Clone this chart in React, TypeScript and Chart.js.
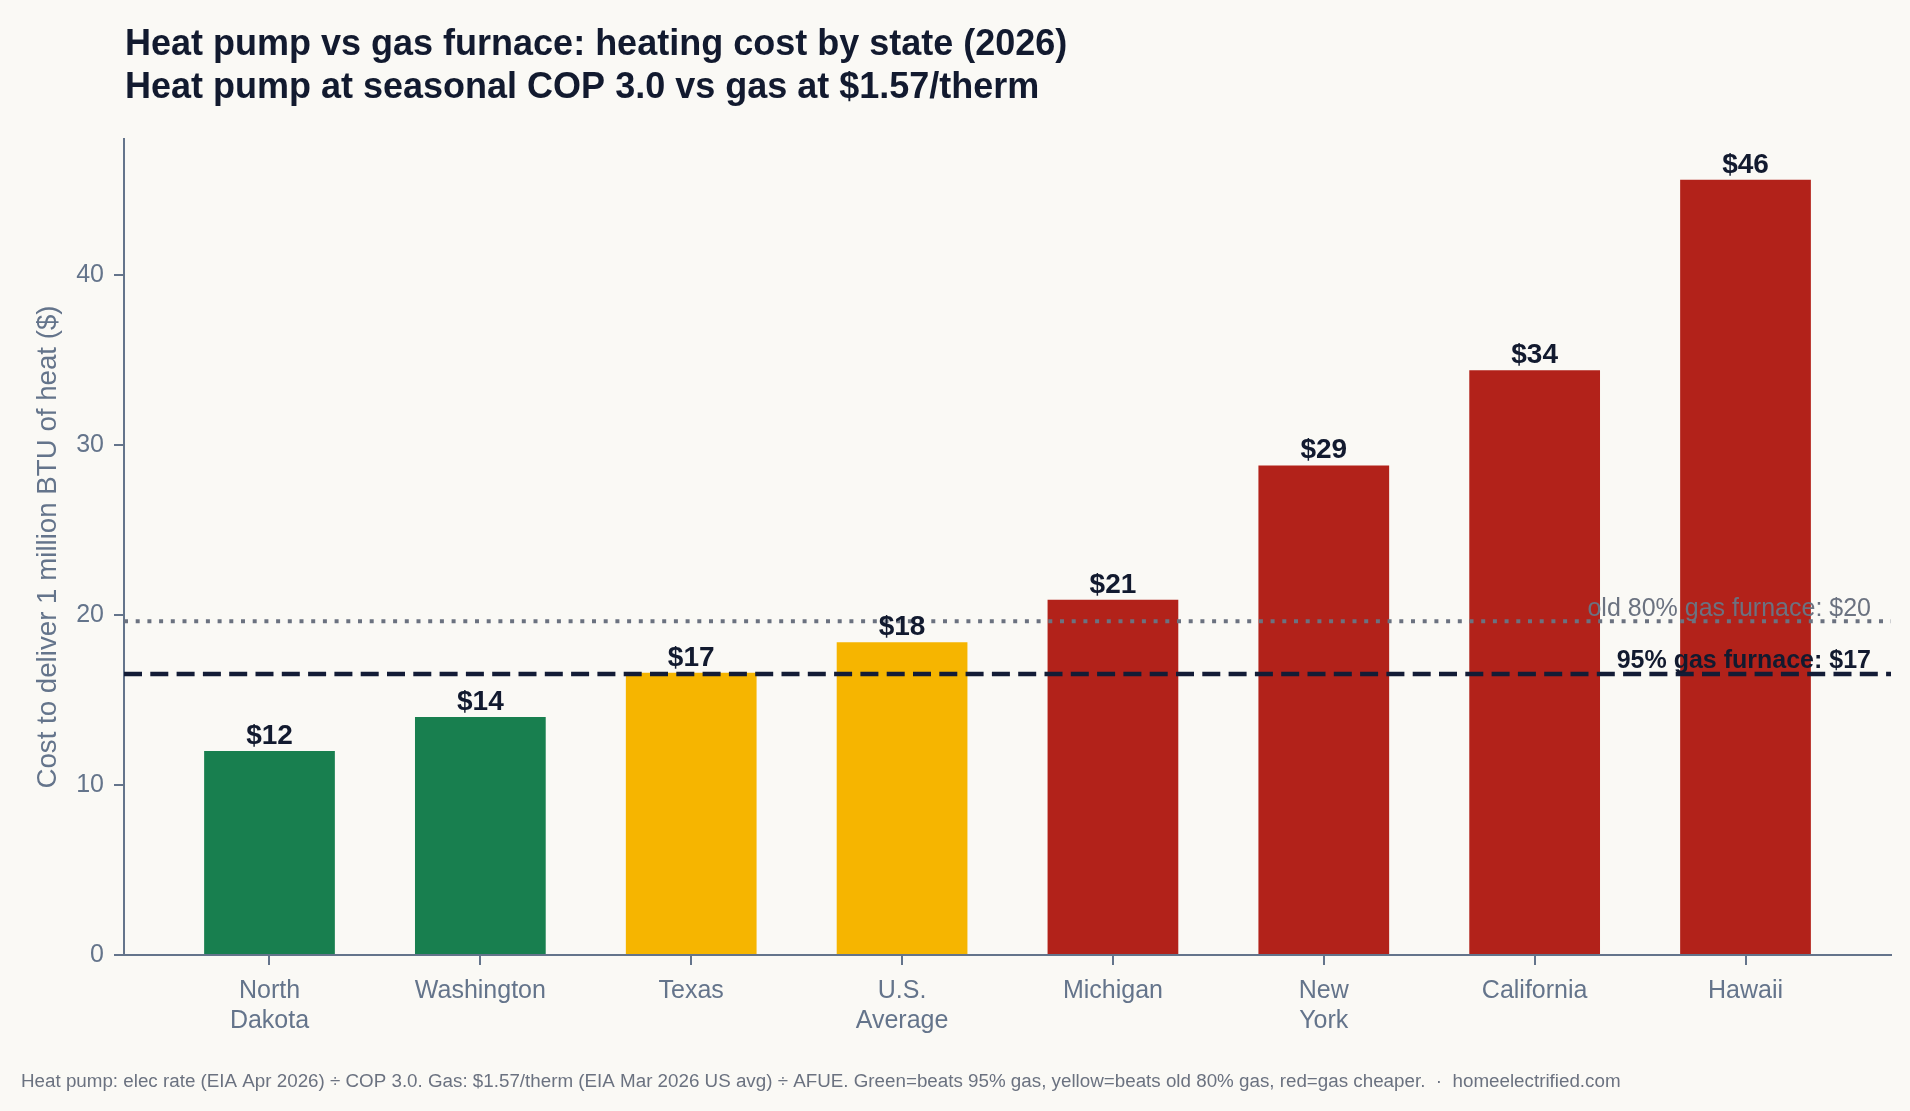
import React, { useEffect, useRef } from "react";
import { Chart, registerables } from "chart.js";

Chart.register(...registerables);

// Categories (states) along the x axis; multi-line names are arrays.
const categories: (string | string[])[] = [
  ["North", "Dakota"],
  "Washington",
  "Texas",
  ["U.S.", "Average"],
  "Michigan",
  ["New", "York"],
  "California",
  "Hawaii",
];

// Heat pump cost to deliver 1 million BTU of heat ($), COP 3.0
const heatPumpCost = [12.0, 14.0, 16.6, 18.4, 20.9, 28.8, 34.4, 45.6];

// Gas furnace cost per million BTU at $1.57/therm
const furnace95Cost = 16.53;
const furnace80Cost = 19.63;

const yTickValues = [0, 10, 20, 30, 40];

const titleLines = [
  "Heat pump vs gas furnace: heating cost by state (2026)",
  "Heat pump at seasonal COP 3.0 vs gas at $1.57/therm",
];
const yAxisTitle = "Cost to deliver 1 million BTU of heat ($)";
const footerText =
  "Heat pump: elec rate (EIA Apr 2026) \u00f7 COP 3.0. Gas: $1.57/therm (EIA Mar 2026 US avg) \u00f7 AFUE. Green=beats 95% gas, yellow=beats old 80% gas, red=gas cheaper.  \u00b7  homeelectrified.com";

const FONT = "'Liberation Sans', Arial, Helvetica, sans-serif";
const BG = "#faf9f5";
const INK = "#121a2f";
const NAVY = "#131c36";
const AXIS = "#64748b";
const MUTED = "#6b7280";
const GREEN = "#187f4f";
const YELLOW = "#f6b500";
const RED = "#b2221a";

function barColor(v: number): string {
  if (v < furnace95Cost) return GREEN;
  if (v < furnace80Cost) return YELLOW;
  return RED;
}

const overlayPlugin = {
  id: "overlay",
  beforeDraw(chart: any) {
    const { ctx, width, height } = chart;
    ctx.save();
    ctx.fillStyle = BG;
    ctx.fillRect(0, 0, width, height);
    ctx.restore();
  },
  afterDatasetsDraw(chart: any) {
    const { ctx, chartArea } = chart;
    const y = chart.scales.y;
    ctx.save();

    // reference lines
    const yOld = y.getPixelForValue(furnace80Cost);
    ctx.lineCap = "butt";
    ctx.strokeStyle = MUTED;
    ctx.lineWidth = 4;
    ctx.setLineDash([4, 7.7]);
    ctx.beginPath();
    ctx.moveTo(chartArea.left, yOld);
    ctx.lineTo(chartArea.right, yOld);
    ctx.stroke();

    const yNew = y.getPixelForValue(furnace95Cost);
    ctx.strokeStyle = NAVY;
    ctx.lineWidth = 4.4;
    ctx.setLineDash([18, 8.3]);
    ctx.beginPath();
    ctx.moveTo(chartArea.left, yNew);
    ctx.lineTo(chartArea.right, yNew);
    ctx.stroke();
    ctx.setLineDash([]);

    // reference line labels
    ctx.textAlign = "right";
    ctx.textBaseline = "alphabetic";
    ctx.fillStyle = MUTED;
    ctx.font = `25px ${FONT}`;
    ctx.fillText(`old 80% gas furnace: $${Math.round(furnace80Cost)}`, chartArea.right - 20, yOld - 5);
    ctx.fillStyle = INK;
    ctx.font = `bold 25px ${FONT}`;
    ctx.fillText(`95% gas furnace: $${Math.round(furnace95Cost)}`, chartArea.right - 20, yNew - 6);

    // bar value labels
    const meta = chart.getDatasetMeta(0);
    ctx.textAlign = "center";
    ctx.fillStyle = INK;
    ctx.font = `bold 28px ${FONT}`;
    meta.data.forEach((bar: any, i: number) => {
      ctx.fillText(`$${Math.round(heatPumpCost[i])}`, bar.x, bar.y - 7);
    });

    ctx.restore();
  },
  afterDraw(chart: any) {
    const { ctx } = chart;
    ctx.save();
    ctx.textAlign = "left";
    ctx.textBaseline = "alphabetic";
    ctx.fillStyle = INK;
    ctx.font = `bold 36px ${FONT}`;
    ctx.fillText(titleLines[0], 125, 55);
    ctx.fillText(titleLines[1], 125, 97.5);

    ctx.fillStyle = MUTED;
    ctx.font = `18.8px ${FONT}`;
    ctx.fillText(footerText, 21, 1087);
    ctx.restore();
  },
};

export default function App() {
  const canvasRef = useRef<HTMLCanvasElement | null>(null);

  useEffect(() => {
    const canvas = canvasRef.current;
    if (!canvas) return;
    const chart = new Chart(canvas, {
      type: "bar",
      data: {
        datasets: [
          {
            data: heatPumpCost.map((v, i) => ({ x: i, y: v })),
            backgroundColor: heatPumpCost.map(barColor),
            borderWidth: 0,
            categoryPercentage: 1,
            barPercentage: 0.62,
          },
        ],
      },
      options: {
        responsive: false,
        animation: false,
        devicePixelRatio: 1,
        layout: { padding: { top: 139, right: 19, bottom: 0, left: 0 } },
        plugins: {
          legend: { display: false },
          tooltip: { enabled: false },
          title: { display: false },
        },
        scales: {
          x: {
            type: "linear",
            offset: false,
            min: -0.69,
            max: categories.length - 1 + 0.69,
            afterBuildTicks: (scale: any) => {
              scale.ticks = categories.map((_, i) => ({ value: i }));
            },
            afterFit: (scale: any) => {
              scale.height = 156;
            },
            border: { display: true, color: AXIS, width: 2 },
            grid: {
              offset: false,
              drawOnChartArea: false,
              drawTicks: true,
              tickLength: 10,
              color: AXIS,
              lineWidth: 2,
            },
            ticks: {
              includeBounds: false,
              autoSkip: false,
              maxRotation: 0,
              padding: 11.5,
              color: AXIS,
              font: { family: FONT, size: 25, lineHeight: 1.2 },
              callback: (value: any) => categories[value as number] as any,
            },
          },
          y: {
            min: 0,
            max: 48,
            afterBuildTicks: (scale: any) => {
              scale.ticks = yTickValues.map((v) => ({ value: v }));
            },
            afterFit: (scale: any) => {
              scale.width = 124;
            },
            border: { display: true, color: AXIS, width: 2 },
            grid: {
              drawOnChartArea: false,
              drawTicks: true,
              tickLength: 10,
              color: AXIS,
              lineWidth: 2,
            },
            ticks: {
              includeBounds: false,
              padding: 10,
              color: AXIS,
              font: { family: FONT, size: 25 },
            },
            title: {
              display: true,
              text: yAxisTitle,
              color: AXIS,
              font: { family: FONT, size: 27.7, lineHeight: 1.2 },
              padding: { top: 32, bottom: 0 },
            },
          },
        },
      },
      plugins: [overlayPlugin],
    } as any);
    return () => chart.destroy();
  }, []);

  return (
    <div
      style={{
        position: "fixed",
        left: 0,
        top: 0,
        width: 1910,
        height: 1111,
        background: BG,
      }}
    >
      <canvas ref={canvasRef} width={1910} height={1111} style={{ display: "block" }} />
    </div>
  );
}
